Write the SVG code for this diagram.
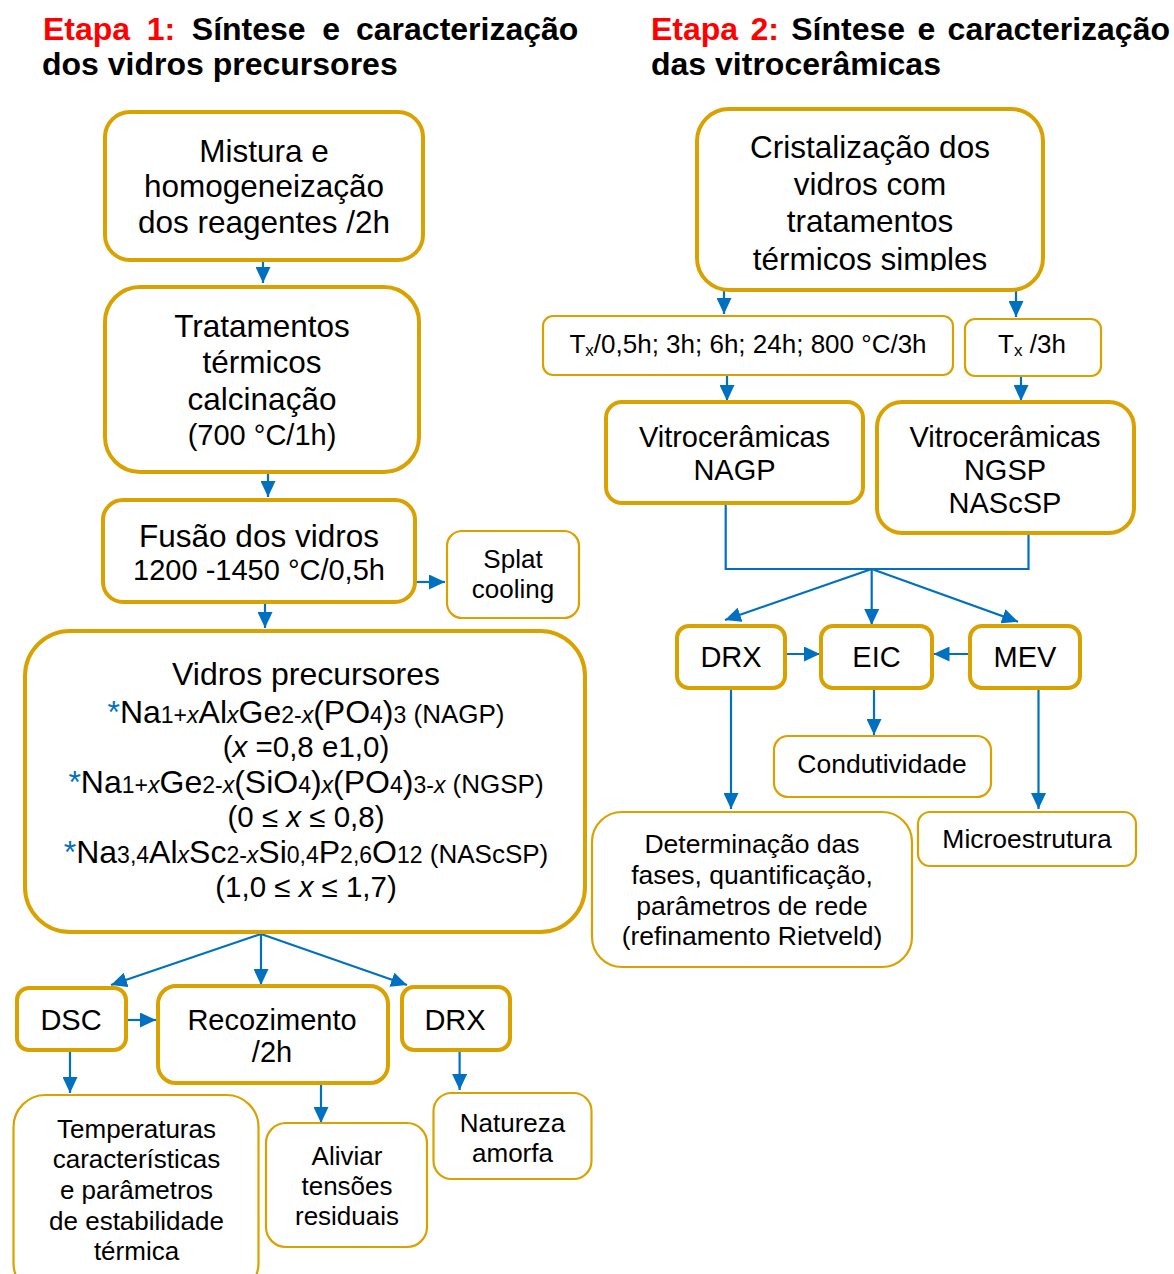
<svg xmlns="http://www.w3.org/2000/svg" width="1174" height="1274" viewBox="0 0 1174 1274">
<style>
.thick{fill:#fff;stroke:#DAA200;stroke-width:4}
.thin{fill:#fff;stroke:#DAA200;stroke-width:2.2}
.t{font-family:"Liberation Sans",Arial,sans-serif;fill:#000;text-anchor:middle}
.h{font-family:"Liberation Sans",Arial,sans-serif;font-weight:bold;font-size:32px;fill:#000}
.red{fill:#FF0000}
.conn{stroke:#0070C0;stroke-width:2.2;fill:none}
.blue{fill:#0070C0}
</style>
<defs>
<marker id="ah" viewBox="0 0 16 15" refX="16" refY="7.5" markerWidth="16" markerHeight="15" markerUnits="userSpaceOnUse" orient="auto">
<path d="M0,0 L16,7.5 L0,15 z" fill="#0070C0"/>
</marker>
<clipPath id="clipCrist"><rect x="690" y="100" width="360" height="171"/></clipPath>
</defs>
<rect width="1174" height="1274" fill="#fff"/>

<g id="titles">
<text class="h" y="40"><tspan class="red" x="43">Etapa</tspan><tspan class="red" x="146.7">1:</tspan><tspan x="191.8">Síntese</tspan><tspan x="322.3">e</tspan><tspan x="356">caracterização</tspan></text>
<text class="h" x="42" y="75">dos vidros precursores</text>
<text class="h" y="40"><tspan class="red" x="651">Etapa</tspan><tspan class="red" x="750.4">2:</tspan><tspan x="791.2">Síntese</tspan><tspan x="917.4">e</tspan><tspan x="947.6">caracterização</tspan></text>
<text class="h" x="651" y="75">das vitrocerâmicas</text>
</g>

<g id="connectors">
<path class="conn" marker-end="url(#ah)" d="M263,260 V283"/>
<path class="conn" marker-end="url(#ah)" d="M268,472 V497"/>
<path class="conn" marker-end="url(#ah)" d="M415,582 H445"/>
<path class="conn" marker-end="url(#ah)" d="M265,602 V628"/>
<path class="conn" marker-end="url(#ah)" d="M261,934 L111,985"/>
<path class="conn" marker-end="url(#ah)" d="M261,934 V985"/>
<path class="conn" marker-end="url(#ah)" d="M261,934 L407,985"/>
<path class="conn" marker-end="url(#ah)" d="M126,1020 H156"/>
<path class="conn" marker-end="url(#ah)" d="M70,1050 V1093"/>
<path class="conn" marker-end="url(#ah)" d="M321,1083 V1123"/>
<path class="conn" marker-end="url(#ah)" d="M459.6,1050 V1090"/>
<path class="conn" marker-end="url(#ah)" d="M724,290 V314"/>
<path class="conn" marker-end="url(#ah)" d="M1016,290 V317"/>
<path class="conn" marker-end="url(#ah)" d="M727,375 V401"/>
<path class="conn" marker-end="url(#ah)" d="M1021,376 V401"/>
<path class="conn" d="M725.7,503 V569 H1028.5 V533"/>
<path class="conn" marker-end="url(#ah)" d="M871.7,569 L725,620"/>
<path class="conn" marker-end="url(#ah)" d="M871.7,569 V625"/>
<path class="conn" marker-end="url(#ah)" d="M871.7,569 L1018,621.7"/>
<path class="conn" marker-end="url(#ah)" d="M785,654 H820"/>
<path class="conn" marker-end="url(#ah)" d="M970,654 H933.5"/>
<path class="conn" marker-end="url(#ah)" d="M731,688 V809"/>
<path class="conn" marker-end="url(#ah)" d="M874,688 V735"/>
<path class="conn" marker-end="url(#ah)" d="M1038.5,688 V809"/>
</g>

<g id="mistura">
<rect class="thick" x="105" y="112" width="318" height="148" rx="25"/>
<text class="t" font-size="31.5"><tspan x="264" y="162">Mistura e</tspan><tspan x="264" y="197">homogeneização</tspan><tspan x="264" y="233">dos reagentes /2h</tspan></text>
</g>

<g id="tratamentos">
<rect class="thick" x="105" y="287" width="314" height="185" rx="35"/>
<text class="t" font-size="31.5"><tspan x="262" y="337">Tratamentos</tspan><tspan x="262" y="373">térmicos</tspan><tspan x="262" y="410">calcinação</tspan></text>
<text class="t" font-size="29" x="262" y="445">(700 °C/1h)</text>
</g>

<g id="fusao">
<rect class="thick" x="103" y="500" width="312" height="102" rx="20"/>
<text class="t" font-size="31.5" x="259" y="547">Fusão dos vidros</text>
<text class="t" font-size="29" x="259" y="580">1200 -1450 °C/0,5h</text>
</g>

<g id="splat">
<rect class="thin" x="447" y="531" width="132" height="87" rx="15"/>
<text class="t" font-size="26"><tspan x="513" y="568">Splat</tspan><tspan x="513" y="598">cooling</tspan></text>
</g>

<g id="vidros">
<rect class="thick" x="25" y="631" width="560" height="301" rx="45"/>
<text class="t" font-size="32" x="306" y="685">Vidros precursores</text>
<text class="t" font-size="32" x="306" y="723"><tspan class="blue">*</tspan>Na<tspan font-size="23">1+<tspan font-style="italic">x</tspan></tspan>Al<tspan font-size="23" font-style="italic">x</tspan>Ge<tspan font-size="23">2-<tspan font-style="italic">x</tspan></tspan>(PO<tspan font-size="23">4</tspan>)<tspan font-size="23">3</tspan><tspan font-size="26"> (NAGP)</tspan></text>
<text class="t" font-size="29.5" x="306" y="757">(<tspan font-style="italic">x</tspan> =0,8 e1,0)</text>
<text class="t" font-size="32" x="306" y="793"><tspan class="blue">*</tspan>Na<tspan font-size="23">1+<tspan font-style="italic">x</tspan></tspan>Ge<tspan font-size="23">2-<tspan font-style="italic">x</tspan></tspan>(SiO<tspan font-size="23">4</tspan>)<tspan font-size="23" font-style="italic">x</tspan>(PO<tspan font-size="23">4</tspan>)<tspan font-size="23">3-<tspan font-style="italic">x</tspan></tspan><tspan font-size="26"> (NGSP)</tspan></text>
<text class="t" font-size="29.5" x="306" y="827">(0 ≤ <tspan font-style="italic">x</tspan> ≤ 0,8)</text>
<text class="t" font-size="32" x="306" y="863"><tspan class="blue">*</tspan>Na<tspan font-size="23">3,4</tspan>Al<tspan font-size="23" font-style="italic">x</tspan>Sc<tspan font-size="23">2-<tspan font-style="italic">x</tspan></tspan>Si<tspan font-size="23">0,4</tspan>P<tspan font-size="23">2,6</tspan>O<tspan font-size="23">12</tspan><tspan font-size="26"> (NAScSP)</tspan></text>
<text class="t" font-size="29.5" x="306" y="897">(1,0 ≤ <tspan font-style="italic">x</tspan> ≤ 1,7)</text>
</g>

<g id="dsc">
<rect class="thick" x="17" y="988" width="109" height="62" rx="12"/>
<text class="t" font-size="29" x="71" y="1030">DSC</text>
</g>

<g id="recozimento">
<rect class="thick" x="158" y="986" width="230" height="97" rx="18"/>
<text class="t" font-size="29"><tspan x="272" y="1030">Recozimento</tspan><tspan x="272" y="1062">/2h</tspan></text>
</g>

<g id="drx1">
<rect class="thick" x="402" y="987" width="108" height="63" rx="12"/>
<text class="t" font-size="29" x="455" y="1030">DRX</text>
</g>

<g id="temperaturas">
<rect class="thin" x="13.5" y="1095" width="245" height="200" rx="32"/>
<text class="t" font-size="26"><tspan x="136.5" y="1138">Temperaturas</tspan><tspan x="136.5" y="1168">características</tspan><tspan x="136.5" y="1199">e parâmetros</tspan><tspan x="136.5" y="1230">de estabilidade</tspan><tspan x="136.5" y="1260">térmica</tspan></text>
</g>

<g id="aliviar">
<rect class="thin" x="266" y="1123" width="161" height="124" rx="20"/>
<text class="t" font-size="26"><tspan x="347" y="1165">Aliviar</tspan><tspan x="347" y="1195">tensões</tspan><tspan x="347" y="1225">residuais</tspan></text>
</g>

<g id="natureza">
<rect class="thin" x="433.5" y="1093" width="158" height="86" rx="18"/>
<text class="t" font-size="26"><tspan x="512.5" y="1132">Natureza</tspan><tspan x="512.5" y="1162">amorfa</tspan></text>
</g>

<g id="cristalizacao">
<rect class="thick" x="697" y="109" width="346" height="181" rx="32"/>
<text class="t" font-size="31.5" clip-path="url(#clipCrist)"><tspan x="870" y="158">Cristalização dos</tspan><tspan x="870" y="195">vidros com</tspan><tspan x="870" y="232">tratamentos</tspan><tspan x="870" y="270">térmicos simples</tspan></text>
</g>

<g id="tx1">
<rect class="thin" x="543" y="316" width="410" height="59" rx="10"/>
<text class="t" font-size="26" x="748" y="353">T<tspan font-size="17" dy="3">x</tspan><tspan dy="-3">/0,5h; 3h; 6h; 24h; 800 °C/3h</tspan></text>
</g>

<g id="tx2">
<rect class="thin" x="965" y="319" width="136" height="57" rx="10"/>
<text class="t" font-size="26" x="1032" y="353">T<tspan font-size="17" dy="3">x</tspan><tspan dy="-3"> /3h</tspan></text>
</g>

<g id="nagp">
<rect class="thick" x="606" y="402" width="257" height="101" rx="16"/>
<text class="t" font-size="29"><tspan x="734.5" y="447">Vitrocerâmicas</tspan><tspan x="734.5" y="480">NAGP</tspan></text>
</g>

<g id="ngsp">
<rect class="thick" x="877" y="402" width="257" height="131" rx="25"/>
<text class="t" font-size="29"><tspan x="1005" y="447">Vitrocerâmicas</tspan><tspan x="1005" y="480">NGSP</tspan><tspan x="1005" y="513">NAScSP</tspan></text>
</g>

<g id="drx2">
<rect class="thick" x="677" y="626" width="108" height="62" rx="12"/>
<text class="t" font-size="29" x="731" y="667">DRX</text>
</g>

<g id="eic">
<rect class="thick" x="821" y="626" width="111" height="62" rx="12"/>
<text class="t" font-size="29" x="876.5" y="667">EIC</text>
</g>

<g id="mev">
<rect class="thick" x="970" y="626" width="110" height="62" rx="12"/>
<text class="t" font-size="29" x="1025" y="667">MEV</text>
</g>

<g id="condutividade">
<rect class="thin" x="774" y="736" width="217" height="61" rx="14"/>
<text class="t" font-size="26.5" x="882" y="773">Condutividade</text>
</g>

<g id="determinacao">
<rect class="thin" x="592" y="812" width="320" height="155" rx="30"/>
<text class="t" font-size="26.5"><tspan x="752" y="853">Determinação das</tspan><tspan x="752" y="884">fases, quantificação,</tspan><tspan x="752" y="915">parâmetros de rede</tspan><tspan x="752" y="945">(refinamento Rietveld)</tspan></text>
</g>

<g id="microestrutura">
<rect class="thin" x="918" y="812" width="218" height="54" rx="12"/>
<text class="t" font-size="26.5" x="1027" y="848">Microestrutura</text>
</g>
</svg>
